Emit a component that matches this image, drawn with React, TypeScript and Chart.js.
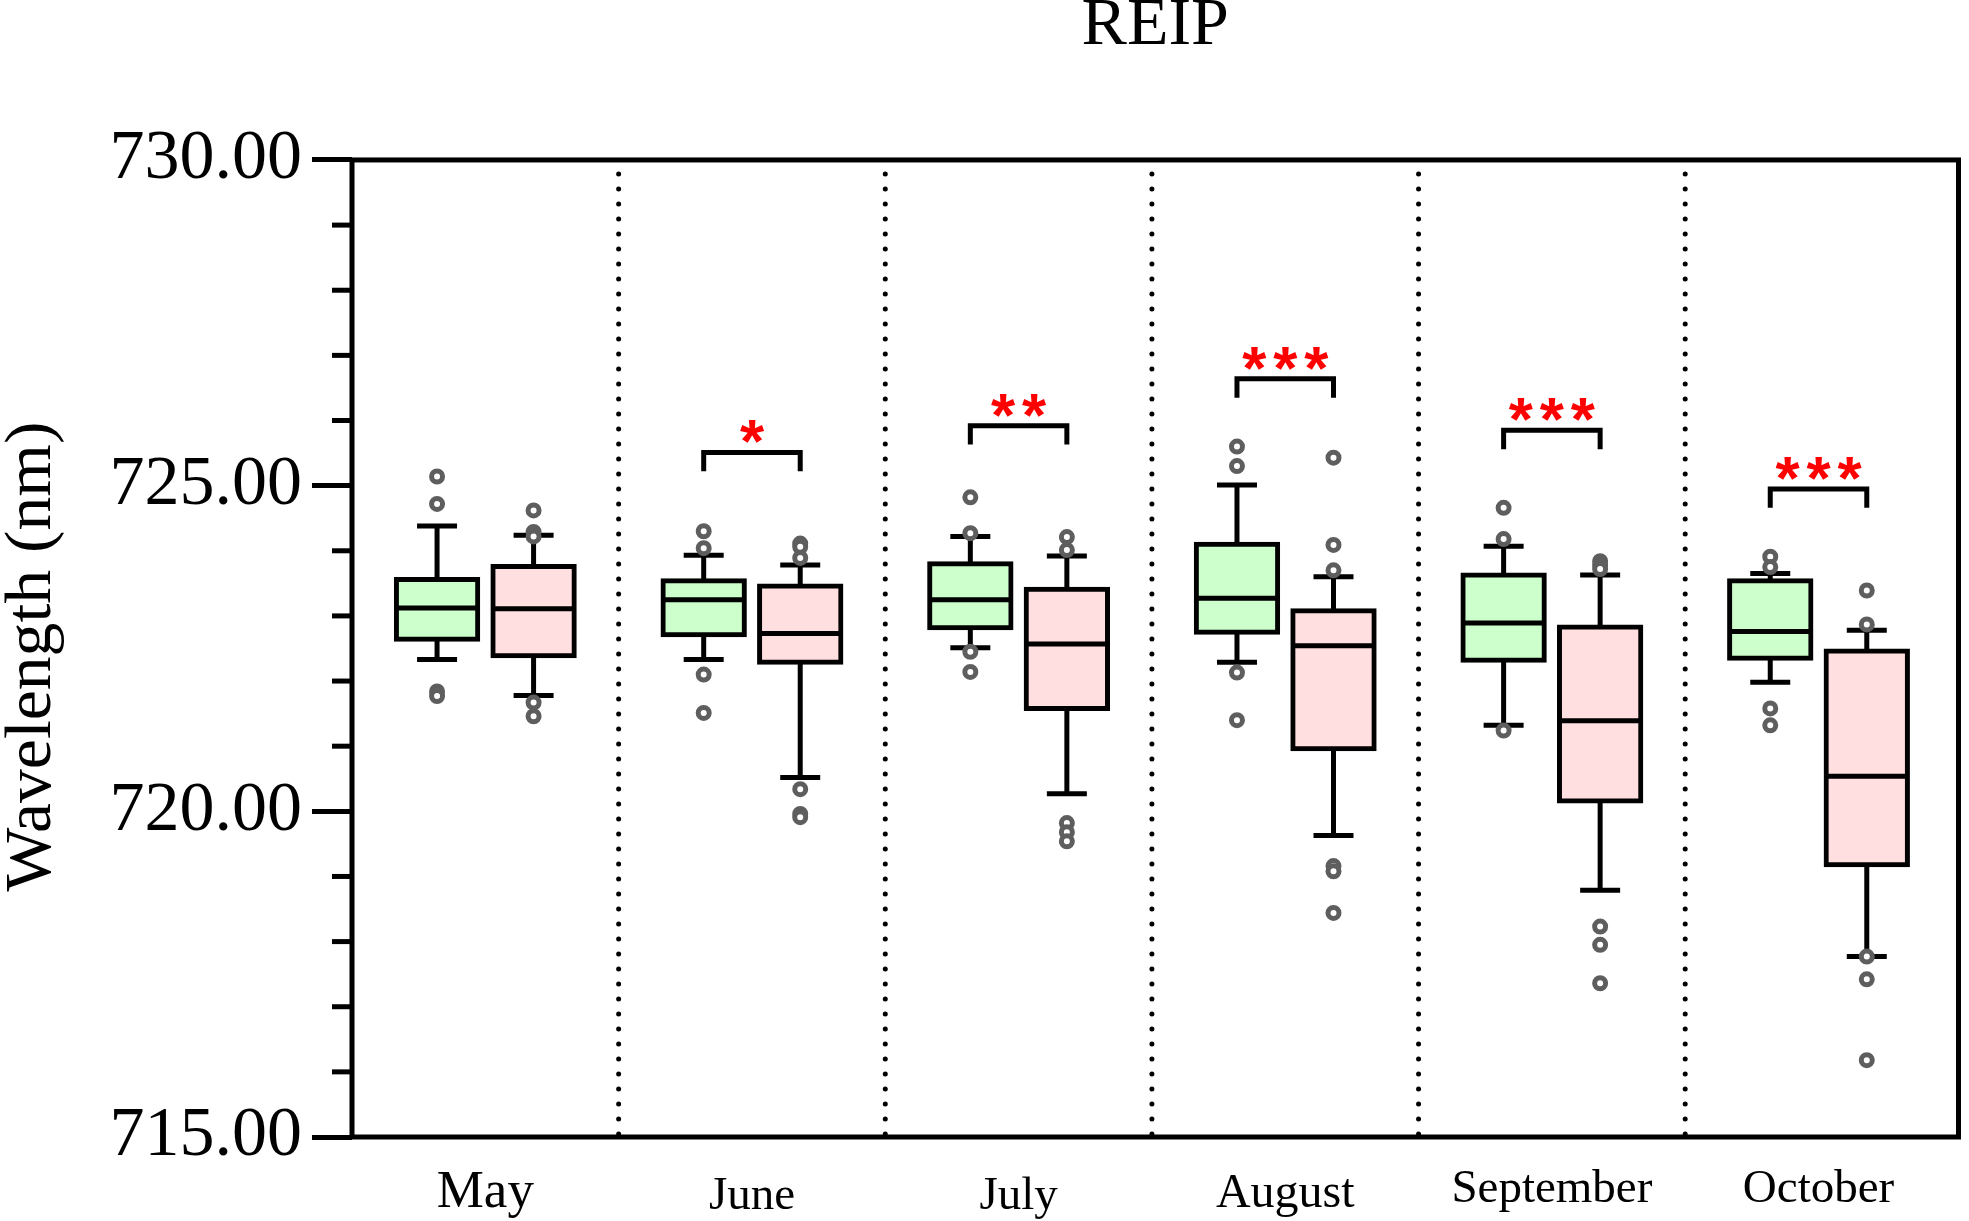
import React, { useEffect, useRef } from 'react';
import { Chart, registerables } from 'chart.js';

Chart.register(...registerables);

// ---------- data ----------
const months = ['May', 'June', 'July', 'August', 'September', 'October'];

const greenLowerWhisker = [722.33, 722.33, 722.51, 722.29, 721.32, 721.98];
const greenQ1 = [722.64, 722.71, 722.82, 722.75, 722.32, 722.35];
const greenMedian = [723.12, 723.25, 723.25, 723.27, 722.89, 722.76];
const greenQ3 = [723.56, 723.54, 723.8, 724.1, 723.63, 723.54];
const greenUpperWhisker = [724.38, 723.93, 724.22, 725.01, 724.07, 723.65];
const greenOutliers = [
  [725.14, 724.72, 721.84, 721.77],
  [724.3, 724.04, 722.1, 721.51],
  [724.82, 724.27, 722.45, 722.14],
  [725.6, 725.3, 722.13, 721.4],
  [724.66, 724.18, 721.24],
  [723.91, 723.75, 721.58, 721.32],
];

const pinkLowerWhisker = [721.78, 720.52, 720.27, 719.63, 718.79, 717.77];
const pinkQ1 = [722.39, 722.29, 721.58, 720.96, 720.16, 719.18];
const pinkMedian = [723.11, 722.73, 722.57, 722.54, 721.39, 720.54];
const pinkQ3 = [723.76, 723.46, 723.41, 723.08, 722.83, 722.46];
const pinkUpperWhisker = [724.24, 723.78, 723.92, 723.6, 723.63, 722.78];
const pinkOutliers = [
  [724.62, 724.29, 724.22, 721.67, 721.46],
  [724.11, 724.06, 723.89, 720.34, 719.96, 719.91],
  [724.21, 724.01, 719.82, 719.68, 719.54],
  [725.43, 724.09, 723.7, 719.16, 719.08, 718.44],
  [723.84, 723.78, 723.72, 718.23, 717.95, 717.36],
  [723.39, 722.87, 717.77, 717.42, 716.18],
];

const significance = ['', '*', '**', '***', '***', '***'];
const bracketLevel: (number | null)[] = [null, 725.51, 725.92, 726.64, 725.85, 724.95];

const Y_MIN = 715;
const Y_MAX = 730;
const Y_MAJOR_STEP = 5;

// ---------- styles ----------
const SERIF = '"Liberation Serif", "Times New Roman", serif';
const monthFontSizes = [53, 47, 47, 48, 47, 47];
const monthLineHeights = [1.2, 1.52, 1.52, 1.38, 1.22, 1.24];
const GREEN = '#ccffcc';
const PINK = '#ffdfdf';
const OUTLIER_GRAY = '#5e5e5e';
const LW = 5;
const OFFSET = 0.181; // half distance between the two boxes of a month (x units)
const BOX_WIDTH = 0.305; // x units
const CAP_HALF = 0.075; // x units
const BRACKET_DROP = 0.29; // y units
const X_MAX = 6.025;
const STAR_SPACING = 31; // px

const greenX = (i: number) => i + 0.5 - OFFSET;
const pinkX = (i: number) => i + 0.5 + OFFSET;

type Pt = { x: number; y: number | null };
function segs(list: number[][]): Pt[] {
  const out: Pt[] = [];
  list.forEach(([x1, y1, x2, y2]) => {
    out.push({ x: x1, y: y1 }, { x: x2, y: y2 }, { x: x2, y: null });
  });
  return out;
}

function whiskerSegs(xf: (i: number) => number, lo: number[], q1: number[], q3: number[], hi: number[]) {
  const s: number[][] = [];
  months.forEach((_, i) => {
    const x = xf(i);
    s.push([x, q3[i], x, hi[i]]);
    s.push([x, q1[i], x, lo[i]]);
    s.push([x - CAP_HALF, hi[i], x + CAP_HALF, hi[i]]);
    s.push([x - CAP_HALF, lo[i], x + CAP_HALF, lo[i]]);
  });
  return s;
}

function medianSegs(xf: (i: number) => number, med: number[]) {
  return months.map((_, i) => [xf(i) - BOX_WIDTH / 2, med[i], xf(i) + BOX_WIDTH / 2, med[i]]);
}

function bracketPts(): Pt[] {
  const out: Pt[] = [];
  bracketLevel.forEach((L, i) => {
    if (L === null) return;
    const a = greenX(i);
    const b = pinkX(i);
    out.push({ x: a, y: L - BRACKET_DROP }, { x: a, y: L }, { x: b, y: L }, { x: b, y: L - BRACKET_DROP }, { x: b, y: null });
  });
  return out;
}

function separatorPts(): Pt[] {
  const s: number[][] = [];
  for (let k = 1; k < months.length; k++) s.push([k, Y_MAX, k, Y_MIN]);
  return segs(s);
}

function outlierPts() {
  const pts: { x: number; y: number }[] = [];
  months.forEach((_, i) => {
    greenOutliers[i].forEach((v) => pts.push({ x: greenX(i), y: v }));
    pinkOutliers[i].forEach((v) => pts.push({ x: pinkX(i), y: v }));
  });
  return pts;
}

const lineBase = {
  type: 'line' as const,
  borderColor: '#000',
  borderWidth: LW,
  pointRadius: 0,
  pointHoverRadius: 0,
  fill: false,
  spanGaps: false,
  tension: 0,
  borderCapStyle: 'butt' as const,
  borderJoinStyle: 'miter' as const,
};

const decorPlugin = {
  id: 'decor',
  afterDatasetsDraw(chart: any) {
    const { ctx, chartArea, scales } = chart;
    const xs = scales.x;
    const ys = scales.y;
    ctx.save();
    // frame
    ctx.strokeStyle = '#000';
    ctx.lineWidth = LW;
    ctx.strokeRect(chartArea.left, chartArea.top, chartArea.right - chartArea.left, chartArea.bottom - chartArea.top);
    // minor ticks
    for (let v = Y_MIN; v <= Y_MAX; v++) {
      if (v % Y_MAJOR_STEP === 0) continue;
      const y = ys.getPixelForValue(v);
      ctx.beginPath();
      ctx.moveTo(chartArea.left - 20, y);
      ctx.lineTo(chartArea.left, y);
      ctx.stroke();
    }
    // significance stars
    ctx.fillStyle = '#ff0000';
    ctx.font = 'bold 62px "Liberation Sans", Arial, sans-serif';
    ctx.textAlign = 'center';
    ctx.textBaseline = 'alphabetic';
    significance.forEach((s, i) => {
      const L = bracketLevel[i];
      if (!s || L === null) return;
      const cx = xs.getPixelForValue(i + 0.5);
      const y = ys.getPixelForValue(L) + 10;
      const n = s.length;
      for (let k = 0; k < n; k++) {
        ctx.fillText('*', cx + (k - (n - 1) / 2) * STAR_SPACING, y);
      }
    });
    // y axis title
    const title = 'Wavelength (nm)';
    ctx.fillStyle = '#000';
    ctx.font = `66px ${SERIF}`;
    const w = ctx.measureText(title).width;
    const sx = 470 / w;
    ctx.translate(50, (chartArea.top + chartArea.bottom) / 2 + 8);
    ctx.rotate(-Math.PI / 2);
    ctx.scale(sx, 1);
    ctx.fillText(title, 0, 0);
    ctx.restore();
  },
};

export default function App() {
  const ref = useRef<HTMLCanvasElement>(null);
  useEffect(() => {
    document.body.style.margin = '0';
    const datasets: any[] = [
      {
        type: 'scatter',
        label: 'outliers',
        data: outlierPts(),
        pointRadius: 5.5,
        pointHoverRadius: 5.5,
        pointBorderWidth: 5,
        pointBorderColor: OUTLIER_GRAY,
        pointBackgroundColor: '#ffffff',
        borderColor: OUTLIER_GRAY,
        backgroundColor: '#ffffff',
        order: 1,
      },
      { ...lineBase, label: 'brackets', data: bracketPts(), order: 2 },
      {
        ...lineBase,
        label: 'medians',
        data: segs([...medianSegs(greenX, greenMedian), ...medianSegs(pinkX, pinkMedian)]),
        order: 3,
      },
      {
        type: 'bar',
        label: 'green',
        data: months.map((_, i) => ({ x: greenX(i), y: [greenQ1[i], greenQ3[i]] })),
        backgroundColor: GREEN,
        borderColor: '#000',
        borderWidth: LW,
        borderSkipped: false,
        inflateAmount: LW / 2,
        grouped: false,
        categoryPercentage: 1,
        barPercentage: BOX_WIDTH / (2 * OFFSET),
        order: 4,
      },
      {
        type: 'bar',
        label: 'pink',
        data: months.map((_, i) => ({ x: pinkX(i), y: [pinkQ1[i], pinkQ3[i]] })),
        backgroundColor: PINK,
        borderColor: '#000',
        borderWidth: LW,
        borderSkipped: false,
        inflateAmount: LW / 2,
        grouped: false,
        categoryPercentage: 1,
        barPercentage: BOX_WIDTH / (2 * OFFSET),
        order: 4,
      },
      {
        ...lineBase,
        label: 'whiskers',
        data: segs([
          ...whiskerSegs(greenX, greenLowerWhisker, greenQ1, greenQ3, greenUpperWhisker),
          ...whiskerSegs(pinkX, pinkLowerWhisker, pinkQ1, pinkQ3, pinkUpperWhisker),
        ]),
        order: 5,
      },
      {
        ...lineBase,
        label: 'separators',
        data: separatorPts(),
        borderDash: [0, 15],
        borderDashOffset: -14,
        borderCapStyle: 'round',
        borderWidth: 5,
        order: 6,
      },
    ];

    const chart = new Chart(ref.current as HTMLCanvasElement, {
      type: 'bar',
      data: { datasets },
      options: {
        responsive: false,
        animation: false,
        devicePixelRatio: 1,
        events: [],
        layout: { padding: { left: 0, right: 6, top: 0, bottom: 0 } },
        plugins: {
          legend: { display: false },
          tooltip: { enabled: false },
          title: {
            display: true,
            text: 'REIP',
            fullSize: false,
            color: '#000',
            font: { family: SERIF, size: 68, weight: 'normal', lineHeight: 0.77 },
            padding: { top: 0, bottom: 107.6 },
          },
        },
        scales: {
          x: {
            type: 'linear',
            min: 0,
            max: X_MAX,
            offset: false,
            grid: { display: false, drawTicks: false, offset: false },
            border: { display: false },
            afterBuildTicks: (scale: any) => {
              scale.ticks = months.map((_, i) => ({ value: i + 0.5 }));
            },
            afterFit: (scale: any) => {
              scale.height = 84;
            },
            ticks: {
              autoSkip: false,
              maxRotation: 0,
              minRotation: 0,
              padding: 24,
              color: '#000',
              font: (c: any) => ({
                family: SERIF,
                size: monthFontSizes[c.index] ?? 47,
                lineHeight: monthLineHeights[c.index] ?? 1.2,
              }),
              callback: (_v: any, i: number) => months[i],
            },
          },
          y: {
            type: 'linear',
            min: Y_MIN,
            max: Y_MAX,
            beginAtZero: false,
            grid: {
              drawOnChartArea: false,
              drawTicks: true,
              tickLength: 40,
              tickWidth: LW,
              tickColor: (c: any) =>
                c.tick && Math.round(c.tick.value) % Y_MAJOR_STEP === 0 ? '#000' : 'rgba(0,0,0,0)',
            },
            border: { display: false },
            afterFit: (scale: any) => {
              scale.width = 352;
            },
            ticks: {
              stepSize: 1,
              autoSkip: false,
              padding: 10,
              color: '#000',
              font: { family: SERIF, size: 70 },
              callback: (v: any) => (Math.round(Number(v)) % Y_MAJOR_STEP === 0 ? Number(v).toFixed(2) : ''),
            },
          },
        },
      } as any,
      plugins: [decorPlugin],
    } as any);
    return () => chart.destroy();
  }, []);

  return (
    <div style={{ width: 1969, height: 1221, background: '#fff' }}>
      <canvas ref={ref} width={1969} height={1221} style={{ display: 'block', width: 1969, height: 1221 }} />
    </div>
  );
}
